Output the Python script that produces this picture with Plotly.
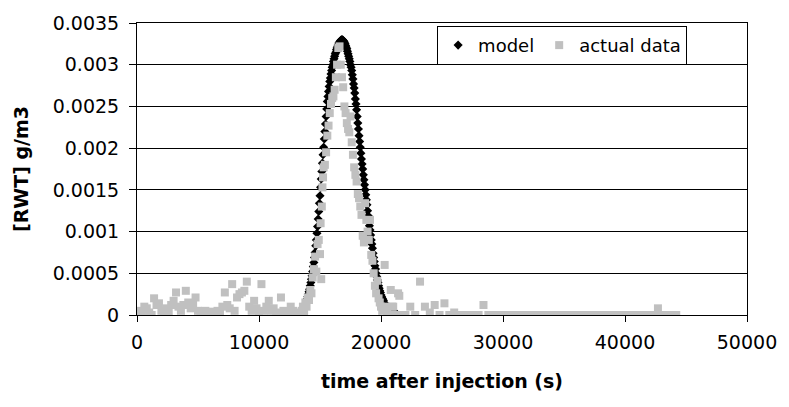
import plotly.graph_objects as go

# ---------------- data ----------------
model_t = [13400, 13450, 13500, 13550, 13600, 13650, 13700, 13750, 13800, 13850, 13900, 13950,
           14000, 14050, 14100, 14150, 14200, 14250, 14300, 14350, 14400, 14450, 14500, 14550,
           14600, 14650, 14700, 14750, 14800, 14850, 14900, 14950, 15000, 15050, 15100, 15150,
           15200, 15250, 15300, 15350, 15400, 15450, 15500, 15550, 15600, 15650, 15700, 15750,
           15800, 15850, 15900, 15950, 16000, 16050, 16100, 16150, 16200, 16250, 16300, 16350,
           16400, 16450, 16500, 16550, 16600, 16650, 16700, 16750, 16800, 16850, 16900, 16950,
           17000, 17050, 17100, 17150, 17200, 17250, 17300, 17350, 17400, 17450, 17500, 17550,
           17600, 17650, 17700, 17750, 17800, 17850, 17900, 17950, 18000, 18050, 18100, 18150,
           18200, 18250, 18300, 18350, 18400, 18450, 18500, 18550, 18600, 18650, 18700, 18750,
           18800, 18850, 18900, 18950, 19000, 19050, 19100, 19150, 19200, 19250, 19300, 19350,
           19400, 19450, 19500, 19550, 19600, 19650, 19700, 19750, 19800, 19850, 19900, 19950,
           20000, 20050, 20100, 20150, 20200, 20300, 20400, 20500, 20600, 20700, 20800, 20900,
           21000, 21100, 21200, 21300]
model_v = [0.00000, 0.00001, 0.00002, 0.00003, 0.00005, 0.00007, 0.00008, 0.00010, 0.00012, 0.00014, 0.00017, 0.00019,
           0.00022, 0.00025, 0.00028, 0.00031, 0.00035, 0.00039, 0.00043, 0.00047, 0.00052, 0.00058, 0.00063, 0.00069,
           0.00075, 0.00083, 0.00090, 0.00098, 0.00106, 0.00115, 0.00124, 0.00134, 0.00143, 0.00153, 0.00163, 0.00172,
           0.00182, 0.00192, 0.00201, 0.00211, 0.00220, 0.00229, 0.00238, 0.00247, 0.00256, 0.00262, 0.00268, 0.00274,
           0.00280, 0.00284, 0.00289, 0.00293, 0.00297, 0.00300, 0.00304, 0.00307, 0.00310, 0.00313, 0.00315, 0.00318,
           0.00320, 0.00322, 0.00324, 0.00326, 0.00327, 0.00328, 0.00329, 0.00330, 0.00330, 0.00330, 0.00329, 0.00328,
           0.00327, 0.00325, 0.00323, 0.00321, 0.00319, 0.00316, 0.00313, 0.00310, 0.00307, 0.00304, 0.00300, 0.00297,
           0.00293, 0.00288, 0.00283, 0.00277, 0.00272, 0.00266, 0.00259, 0.00253, 0.00246, 0.00238, 0.00230, 0.00223,
           0.00215, 0.00208, 0.00201, 0.00194, 0.00187, 0.00181, 0.00175, 0.00168, 0.00162, 0.00156, 0.00150, 0.00144,
           0.00138, 0.00132, 0.00125, 0.00119, 0.00113, 0.00107, 0.00102, 0.00096, 0.00090, 0.00085, 0.00080, 0.00074,
           0.00069, 0.00064, 0.00059, 0.00055, 0.00050, 0.00046, 0.00042, 0.00039, 0.00035, 0.00032, 0.00029, 0.00027,
           0.00024, 0.00022, 0.00020, 0.00019, 0.00017, 0.00014, 0.00012, 0.00010, 0.00009, 0.00007, 0.00006, 0.00005,
           0.00004, 0.00003, 0.00002, 0.00001]

actual_t = [0, 200, 400, 600, 800, 1000, 1200, 1400, 1600, 1800, 2000, 2200, 2400, 2600, 2800, 3000,
            3200, 3400, 3600, 3800, 4000, 4200, 4400, 4600, 4800, 5000, 5200, 5400, 5600, 5800, 6000,
            6200, 6400, 6600, 6800, 7000, 7200, 7400, 7600, 7800, 8000, 8200, 8400, 8600, 8800, 9000,
            9200, 9400, 9600, 9800, 10000, 10200, 10400, 10600, 10800, 11000, 11200, 11400, 11600,
            11800, 12000, 12200, 12400, 12600, 12800, 13000, 13200,
            13400, 13500, 13600, 13700, 13800, 13900, 14000, 14100, 14200, 14300, 14400, 14500, 14600,
            14700, 14800, 14900, 15000, 15050, 15100, 15150, 15200, 15250, 15300, 15400, 15500, 15600,
            15700, 15800, 15900, 16000, 16100, 16200, 16300, 16400, 16500, 16600, 16700, 16800, 16900,
            17000, 17100, 17200, 17300, 17400, 17500, 17600, 17700, 17800, 17900, 18000, 18100, 18200,
            18300, 18400, 18500, 18600, 18700, 18800, 18900, 19000, 19100, 19200, 19300, 19400, 19500,
            19600, 19700, 19800, 19900, 20000, 20100, 20200, 20300, 20400, 20500, 20600, 20700, 20800,
            20900, 21000, 21100, 21200, 21400, 21500,
            21600, 22000, 22400, 22800, 23200, 23600, 24000, 24400, 24800, 25200, 25600, 26000, 26400,
            26800, 27200, 27600, 28000, 28400, 28800, 29200, 29600, 30000, 30400, 30800, 31200, 31600,
            32000, 32400, 32800, 33200, 33600, 34000, 34400, 34800, 35200, 35600, 36000, 36400, 36800,
            37200, 37600, 38000, 38400, 38800, 39200, 39600, 40000, 40400, 40800, 41200, 41600, 42000,
            42400, 42700, 43000, 43400, 43800, 44200]
actual_v = [0.00003, 0.00005, 0.0, 0.0001, 0.00008, 0.00003, 0.0, 0.0002, 0.00012, 0.00014, 0.00005, 0.0,
            0.00008, 0.00003, 0.00012, 0.00017, 0.00027, 0.0001, 0.00005, 0.00012, 0.00029, 0.00015,
            0.00008, 0.00012, 0.00021, 0.00005, 0.00003, 0.0, 0.00005, 0.00002, 0.00004, 0.0, 0.00003,
            0.00005, 0.00002, 0.0001, 0.00027, 0.00012, 0.00008, 0.00037, 0.00005, 0.00021, 0.00025,
            0.00027, 0.00029, 0.0004, 0.0001, 0.00005, 0.00017, 0.00008, 0.00003, 0.00037, 0.00005,
            0.0001, 0.00017, 0.00005, 0.00008, 0.00003, 0.0, 0.00021, 0.00005, 0.0, 0.00003, 0.0001,
            0.00005, 0.0, 0.00003,
            0.00002, 0.00005, 0.0001, 0.00004, 0.00015, 0.0001, 0.00021, 0.00018, 0.0003, 0.00026,
            0.00045, 0.00055, 0.0007, 0.00052, 0.00085, 0.0009, 0.00073, 0.0011, 0.00043, 0.0013,
            0.00153, 0.00165, 0.00177, 0.0018, 0.00195, 0.00215, 0.00227, 0.00242, 0.00253, 0.0026,
            0.00262, 0.0027, 0.00285, 0.003, 0.0032, 0.00322, 0.003, 0.00285, 0.00273, 0.0025,
            0.00242, 0.0023, 0.00223, 0.00219, 0.00238, 0.00207, 0.00192, 0.00177, 0.00168, 0.0016,
            0.00145, 0.0014, 0.0013, 0.0012, 0.00095, 0.00087, 0.00134, 0.00114, 0.001, 0.0009,
            0.00114, 0.00072, 0.00065, 0.0005, 0.00035, 0.00026, 0.00041, 0.0002, 0.00015, 0.0001,
            0.00005, 0.00008, 0.0006, 0.0001, 0.00003, 0.0, 0.0, 0.0003, 0.0001, 0.0001, 0.0, 0.0,
            0.00026, 0.00023,
            0.0, 0.0, 0.0001, 0.0, 0.0004, 0.0001, 0.00003, 0.00012, 0.0, 0.00014, 0.0, 0.00003, 0.0,
            0.0, 0.0, 0.0, 0.0, 0.00012, 0.0, 0.0, 0.0, 0.0, 0.0, 0.0, 0.0, 0.0,
            0.0, 0.0, 0.0, 0.0, 0.0, 0.0, 0.0, 0.0, 0.0, 0.0, 0.0, 0.0, 0.0,
            0.0, 0.0, 0.0, 0.0, 0.0, 0.0, 0.0, 0.0, 0.0, 0.0, 0.0, 0.0, 0.0,
            0.0, 0.00008, 0.0, 0.0, 0.0, 0.0]

x_ticks = [0, 10000, 20000, 30000, 40000, 50000]
x_tick_labels = ["0", "10000", "20000", "30000", "40000", "50000"]
y_ticks = [0, 0.0005, 0.001, 0.0015, 0.002, 0.0025, 0.003, 0.0035]
y_tick_labels = ["0", "0.0005", "0.001", "0.0015", "0.002", "0.0025", "0.003", "0.0035"]

FONT = "DejaVu Sans"
FS = 19

fig = go.Figure()
fig.add_trace(go.Scatter(
    x=model_t, y=model_v, mode="markers", name="model",
    marker=dict(symbol="diamond", size=7, color="black", line=dict(width=0)),
))
fig.add_trace(go.Scatter(
    x=actual_t, y=actual_v, mode="markers", name="actual data",
    marker=dict(symbol="square", size=8, color="#C0C0C0", line=dict(width=0)),
))

fig.update_layout(
    width=789, height=407,
    margin=dict(l=137, r=36, t=16, b=92),
    paper_bgcolor="white", plot_bgcolor="white",
    font=dict(family=FONT, size=FS, color="black"),
    showlegend=True,
    legend=dict(
        orientation="h", x=0.492, y=0.99, xanchor="left", yanchor="top",
        bgcolor="white", bordercolor="black", borderwidth=1,
        font=dict(family=FONT, size=18, color="black"),
        itemwidth=30, tracegroupgap=0,
    ),
    xaxis=dict(
        range=[0, 50000], tickvals=x_ticks, ticktext=x_tick_labels,
        showgrid=False, zeroline=False,
        showline=True, linecolor="black", linewidth=1, mirror=True,
        ticks="outside", ticklen=6, tickcolor="black",
        tickfont=dict(family=FONT, size=FS),
        ticklabelstandoff=4,
        title=dict(text="<b>time after injection (s)</b>", font=dict(family=FONT, size=FS), standoff=22),
    ),
    yaxis=dict(
        range=[0, 0.0035], tickvals=y_ticks, ticktext=y_tick_labels,
        showgrid=True, gridcolor="black", gridwidth=1, zeroline=False,
        showline=True, linecolor="black", linewidth=1, mirror=True,
        ticks="outside", ticklen=7, tickcolor="black",
        tickfont=dict(family=FONT, size=FS),
        ticklabelstandoff=6,
        title=dict(text="<b>[RWT] g/m3</b>", font=dict(family=FONT, size=FS), standoff=19),
    ),
)

fig.write_html("out.html")
